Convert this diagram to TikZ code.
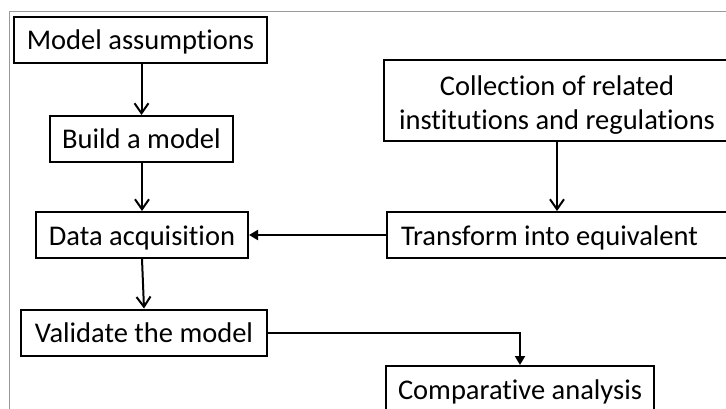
\documentclass[tikz,border=0pt]{standalone}
\usepackage{fontspec}
\setmainfont{Carlito}[Ligatures={NoCommon}]
\usetikzlibrary{arrows.meta}
\begin{document}
\begin{tikzpicture}[x=1pt,y=1pt,
  box/.style={draw=black, line width=2pt, inner sep=0pt, font=\fontsize{28.5}{34}\selectfont,
    text height=24pt, text depth=4pt, minimum height=46pt},
  openarrow/.style={line width=2pt, -{Straight Barb[length=10pt,width=14pt,line width=2pt]}},
  filledarrow/.style={line width=2pt, -{Triangle[length=9pt,width=10pt]}},
  frame/.style={draw=black!40, line width=1pt}]
\useasboundingbox (0,0) rectangle (726,-409);
\clip (0,0) rectangle (726,-409);
\fill[white] (0,0) rectangle (726,-409);
\draw[frame] (9,-409) -- (9,-12) -- (726,-12);

\node[box, minimum width=253pt] (MA) at (140.5,-40) {Model assumptions};
\node[box, minimum width=183pt] (BM) at (141.5,-139) {Build a model};
\node[box, minimum width=212pt] (DA) at (142,-235) {Data acquisition};
\node[box, minimum width=246pt] (VM) at (144,-332.5) {Validate the model};
\node[box, minimum width=346pt, minimum height=81pt, align=center, text height=, text depth=] (CO) at (557,-100.5)
  {\rule{0pt}{29pt}Collection of related\\institutions and regulations};
\node[box, anchor=west, inner xsep=14pt, text width=330pt, align=flush left] (TR) at (386,-235) {Transform into equivalent};
\node[box, minimum width=268pt] (CA) at (520,-389) {Comparative analysis};

\draw[openarrow] (MA.south -| BM.north) -- (BM.north);
\draw[openarrow] (BM.south -| 142,0) -- (DA.north);
\draw[openarrow] (DA.south) -- (VM.north);
\draw[openarrow] (CO.south) -- (CO.south |- TR.north);
\draw[filledarrow] (TR.west) -- (DA.east);
\draw[filledarrow] (VM.east) -| (CA.north);
\end{tikzpicture}
\end{document}
